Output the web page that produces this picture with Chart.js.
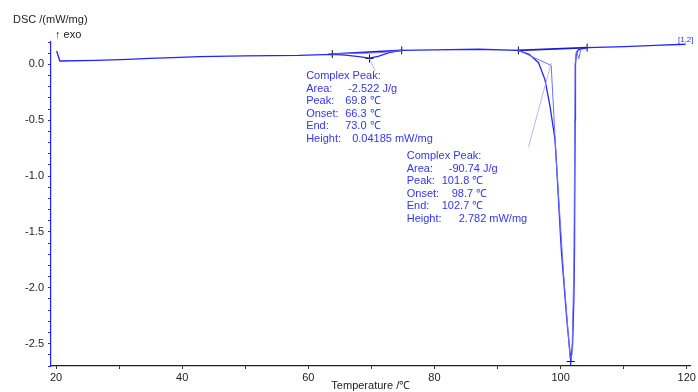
<!DOCTYPE html>
<html>
<head>
<meta charset="utf-8">
<script src="https://cdn.jsdelivr.net/npm/chart.js@4"></script>
<style>
  html, body { margin: 0; padding: 0; background: #fff; }
  #wrap { width: 698px; height: 392px; position: relative; }
</style>
</head>
<body>
<div id="wrap"><canvas id="dscChart"></canvas></div>
<script>
// measured DSC curve
const tempMain = [20.1, 20.6, 26.4, 31.4, 34.8, 38.5, 42.7, 50, 58.5, 63.8, 65.9, 68.0, 69.7, 71.2, 72.8, 74.8, 80, 87, 93.3, 95.0, 96.5, 97.5, 98.3, 99.1, 99.3, 100.1, 101.0, 101.6, 101.9, 102.1, 102.2, 102.3, 102.35, 102.5, 102.8, 103.5, 104.2, 110.2, 115, 119.8];
const dscMain = [0.12, 0.03, 0.036, 0.045, 0.054, 0.06, 0.069, 0.075, 0.08, 0.09, 0.083, 0.069, 0.056, 0.074, 0.105, 0.125, 0.13, 0.135, 0.125, 0.09, 0.015, -0.134, -0.37, -0.67, -0.85, -1.66, -2.3, -2.65, -2.5, -2.1, -1.66, -0.5, 0.0, 0.1, 0.13, 0.14, 0.15, 0.158, 0.17, 0.18];

// peak fit curves
const fitT1 = [63.8, 66.5, 69.5, 72.0, 74.8];
const fitV1 = [0.092, 0.098, 0.1, 0.108, 0.125];
const fitT2 = [93.3, 98.5, 99.3, 100.5, 101.5, 101.8, 102.1, 102.3, 102.5, 102.9, 103.2];
const fitV2 = [0.125, -0.01, -0.85, -1.9, -2.63, -2.6, -1.8, 0.0, 0.12, 0.05, 0.14];

// baselines, tangent and leader
const baseT1 = [63.8, 74.8];
const baseV1 = [0.092, 0.125];
const baseT2 = [93.3, 104.2];
const baseV2 = [0.125, 0.15];
const tangT = [94.9, 98.5];
const tangV = [-0.74, 0.01];
const leadT = [69.7, 70.6];
const leadV = [0.05, -0.06];

// evaluation markers
const markT = [63.8, 69.7, 74.8, 93.3, 104.2, 101.6];
const markV = [0.092, 0.052, 0.125, 0.125, 0.15, -2.66];

// axes
const xTicks = [20, 30, 40, 50, 60, 70, 80, 90, 100, 110, 120];
const xLabels = [20, 40, 60, 80, 100, 120];
const yLabels = [-2.5, -2.0, -1.5, -1.0, -0.5, 0.0];

// annotation blocks
const note1 = { t: 59.65, v: -0.108, rows: [['Area:', '-2.522 J/g', 42], ['Peak:', '69.8 \u2103', 39], ['Onset:', '66.3 \u2103', 39], ['End:', '73.0 \u2103', 39], ['Height:', '0.04185 mW/mg', 46]] };
const note2 = { t: 75.6, v: -0.824, rows: [['Area:', '-90.74 J/g', 42], ['Peak:', '101.8 \u2103', 35], ['Onset:', '98.7 \u2103', 45], ['End:', '102.7 \u2103', 35], ['Height:', '2.782 mW/mg', 52]] };

const pts = (xs, ys) => xs.map((x, i) => ({ x: x, y: ys[i] }));
const FONT = '"Liberation Sans", Arial, sans-serif';
const TEXT_BLUE = '#3434f2';

const textPlugin = {
  id: 'dscText',
  afterDraw(chart) {
    const { ctx, scales: { x, y } } = chart;
    ctx.save();
    ctx.font = '11px ' + FONT;
    ctx.textBaseline = 'middle';
    ctx.fillStyle = '#222';
    ctx.fillText('DSC /(mW/mg)', 13, 20);
    ctx.fillText('\u2191 exo', 55, 35);
    ctx.textAlign = 'center';
    ctx.fillText('Temperature /\u2103', (chart.chartArea.left + chart.chartArea.right) / 2, 386);
    ctx.textAlign = 'left';

    ctx.fillStyle = TEXT_BLUE;
    [note1, note2].forEach(n => {
      const px = x.getPixelForValue(n.t);
      let py = y.getPixelForValue(n.v);
      ctx.fillText('Complex Peak:', px, py);
      n.rows.forEach(r => {
        py += 12.5;
        ctx.fillText(r[0], px, py);
        ctx.fillText(r[1], px + r[2], py);
      });
    });

    ctx.font = '8px ' + FONT;
    ctx.fillText('[1,2]', x.getPixelForValue(118.6), 40);
    ctx.restore();
  }
};

new Chart(document.getElementById('dscChart'), {
  type: 'scatter',
  data: {
    datasets: [
      { data: pts(tangT, tangV), showLine: true, borderColor: '#a4a4ff', borderWidth: 0.8, pointRadius: 0 },
      { data: pts(leadT, leadV), showLine: true, borderColor: '#a4a4ff', borderWidth: 0.8, pointRadius: 0 },
      { data: pts(fitT1, fitV1), showLine: true, borderColor: '#6f6fff', borderWidth: 1, pointRadius: 0 },
      { data: pts(fitT2, fitV2), showLine: true, borderColor: '#6f6fff', borderWidth: 1, pointRadius: 0 },
      { data: pts(baseT1, baseV1), showLine: true, borderColor: '#1a1ad8', borderWidth: 1.6, pointRadius: 0 },
      { data: pts(baseT2, baseV2), showLine: true, borderColor: '#1a1ad8', borderWidth: 1.6, pointRadius: 0 },
      { data: pts(tempMain, dscMain), showLine: true, borderColor: '#2424ff', borderWidth: 1.3, pointRadius: 0 },
      { data: pts(markT, markV), showLine: false, pointStyle: 'cross', pointRadius: 4, borderColor: '#111', borderWidth: 1 }
    ]
  },
  options: {
    responsive: true,
    maintainAspectRatio: false,
    animation: false,
    layout: { padding: { top: 42, right: 6, left: 0, bottom: 0 } },
    plugins: { legend: { display: false }, tooltip: { enabled: false } },
    scales: {
      x: {
        type: 'linear', min: 19.2, max: 120.6,
        afterBuildTicks: axis => { axis.ticks = xTicks.map(v => ({ value: v })); },
        afterFit: axis => { axis.height = 26; },
        ticks: {
          autoSkip: false, maxRotation: 0, padding: 2, color: '#222',
          font: { family: FONT, size: 11 },
          callback: v => xLabels.includes(v) ? String(v) : ''
        },
        grid: { drawOnChartArea: false, tickLength: 3, tickColor: '#333' },
        border: { color: '#222', width: 1.2 }
      },
      y: {
        type: 'linear', min: -2.7, max: 0.2,
        afterBuildTicks: axis => {
          const t = [];
          for (let i = -27; i <= 2; i++) t.push({ value: i / 10 });
          axis.ticks = t;
        },
        afterFit: axis => { axis.width = 51; },
        ticks: {
          autoSkip: false, padding: 4, color: '#222',
          font: { family: FONT, size: 11 },
          callback: v => yLabels.some(l => Math.abs(l - v) < 1e-6) ? v.toFixed(1) : ''
        },
        grid: { drawOnChartArea: false, tickLength: 3, tickColor: '#2424ff' },
        border: { color: '#2424ff', width: 1.2 }
      }
    }
  },
  plugins: [textPlugin]
});
</script>
</body>
</html>
